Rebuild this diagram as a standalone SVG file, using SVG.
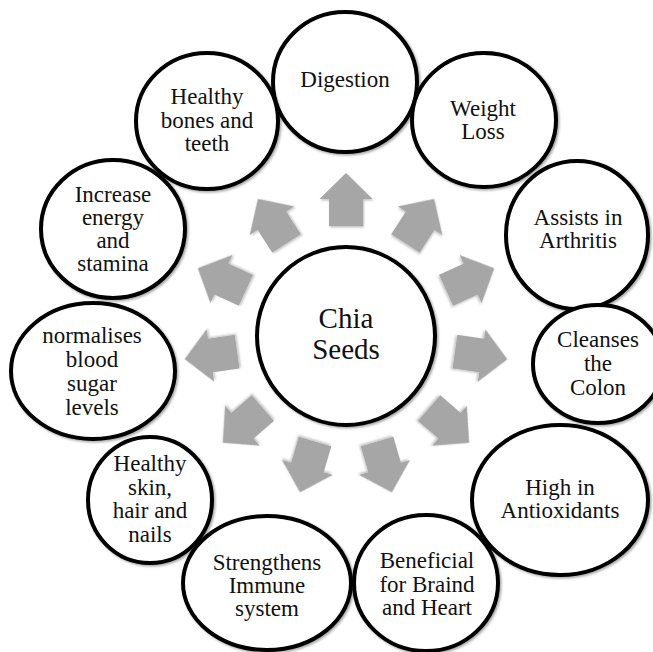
<svg xmlns="http://www.w3.org/2000/svg" width="653" height="652" viewBox="0 0 653 652">
<style>
.node ellipse{fill:#fff;stroke:#000;stroke-width:4;filter:url(#sh)}
.node text{font-family:"Liberation Serif","Times New Roman",serif;font-size:23px;fill:#111;text-anchor:middle}
#center text{font-size:29px}
.arrow{fill:#a6a6a6;filter:url(#ash)}
</style>
<defs>
<filter id="sh" x="-10%" y="-10%" width="125%" height="125%">
<feDropShadow dx="1.5" dy="1.5" stdDeviation="1.2" flood-color="#000" flood-opacity="0.35"/>
</filter>
<filter id="ash" x="-20%" y="-20%" width="140%" height="140%">
<feDropShadow dx="1" dy="1.5" stdDeviation="1.2" flood-color="#000" flood-opacity="0.25"/>
</filter>
<path id="arr" d="M-17,-110 L-17,-137 L-26.5,-137 L0,-163 L26.5,-137 L17,-137 L17,-110 Z"/>
</defs>
<rect width="653" height="652" fill="#fff"/>
<g id="connectors">
<use href="#arr" class="arrow" transform="translate(346,336) rotate(0)"/>
<use href="#arr" class="arrow" transform="translate(346,336) rotate(32.727)"/>
<use href="#arr" class="arrow" transform="translate(346,336) rotate(65.455)"/>
<use href="#arr" class="arrow" transform="translate(346,336) rotate(98.182)"/>
<use href="#arr" class="arrow" transform="translate(346,336) rotate(130.909)"/>
<use href="#arr" class="arrow" transform="translate(346,336) rotate(163.636)"/>
<use href="#arr" class="arrow" transform="translate(346,336) rotate(196.364)"/>
<use href="#arr" class="arrow" transform="translate(346,336) rotate(229.091)"/>
<use href="#arr" class="arrow" transform="translate(346,336) rotate(261.818)"/>
<use href="#arr" class="arrow" transform="translate(346,336) rotate(294.545)"/>
<use href="#arr" class="arrow" transform="translate(346,336) rotate(327.273)"/>
</g>
<g id="center" class="node">
<ellipse cx="346" cy="336" rx="89" ry="89"/>
<text x="346" y="328">Chia</text>
<text x="346" y="359">Seeds</text>
</g>
<g id="digestion" class="node">
<ellipse cx="345" cy="82" rx="72" ry="70"/>
<text x="345" y="87">Digestion</text>
</g>
<g id="weight" class="node">
<ellipse cx="484" cy="120" rx="72" ry="67"/>
<text x="483" y="116">Weight</text>
<text x="483" y="139">Loss</text>
</g>
<g id="arthritis" class="node">
<ellipse cx="577" cy="235" rx="71" ry="74"/>
<text x="578" y="225">Assists in</text>
<text x="578" y="248">Arthritis</text>
</g>
<g id="colon" class="node">
<ellipse cx="598" cy="364" rx="65" ry="59"/>
<text x="598" y="347">Cleanses</text>
<text x="598" y="371">the</text>
<text x="598" y="395">Colon</text>
</g>
<g id="antioxidants" class="node">
<ellipse cx="560" cy="500" rx="88" ry="75"/>
<text x="560" y="495">High in</text>
<text x="560" y="518">Antioxidants</text>
</g>
<g id="brain" class="node">
<ellipse cx="426" cy="583" rx="72" ry="68"/>
<text x="427" y="568">Beneficial</text>
<text x="427" y="592">for Braind</text>
<text x="427" y="615">and Heart</text>
</g>
<g id="immune" class="node">
<ellipse cx="267" cy="583" rx="84" ry="67"/>
<text x="267" y="570">Strengthens</text>
<text x="267" y="593">Immune</text>
<text x="267" y="616">system</text>
</g>
<g id="skin" class="node">
<ellipse cx="150" cy="500" rx="62" ry="63"/>
<text x="150" y="471">Healthy</text>
<text x="150" y="495">skin,</text>
<text x="150" y="518">hair and</text>
<text x="150" y="542">nails</text>
</g>
<g id="sugar" class="node">
<ellipse cx="93" cy="371" rx="82" ry="68"/>
<text x="92" y="343">normalises</text>
<text x="92" y="367">blood</text>
<text x="92" y="391">sugar</text>
<text x="92" y="415">levels</text>
</g>
<g id="energy" class="node">
<ellipse cx="113" cy="229" rx="72" ry="69"/>
<text x="113" y="202">Increase</text>
<text x="113" y="225">energy</text>
<text x="113" y="248">and</text>
<text x="113" y="271">stamina</text>
</g>
<g id="bones" class="node">
<ellipse cx="207" cy="121" rx="71" ry="68"/>
<text x="207" y="104">Healthy</text>
<text x="207" y="128">bones and</text>
<text x="207" y="151">teeth</text>
</g>
</svg>
